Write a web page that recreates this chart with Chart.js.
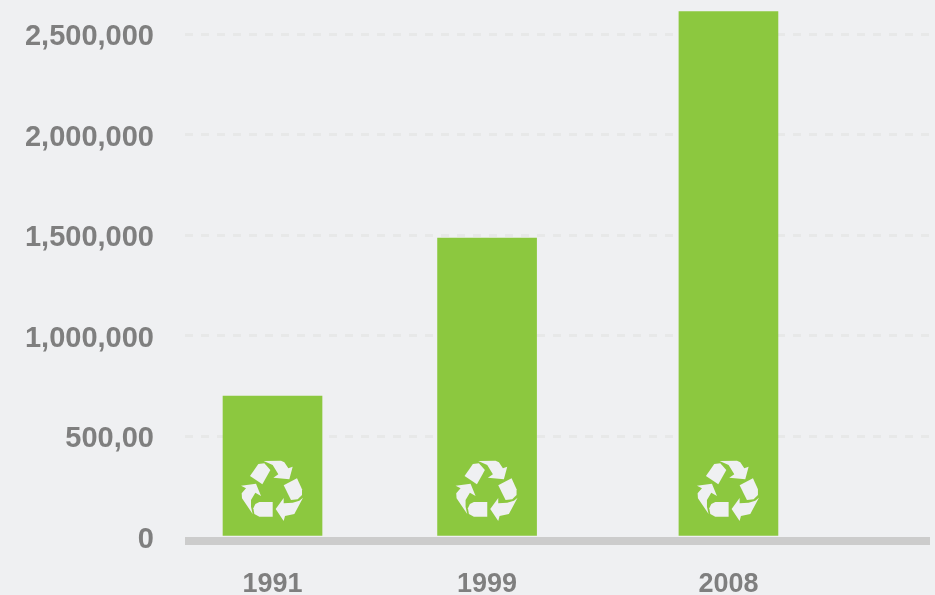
<!DOCTYPE html>
<html>
<head>
<meta charset="utf-8">
<title>Recycling chart</title>
<script src="https://cdn.jsdelivr.net/npm/chart.js@4/dist/chart.umd.js"></script>
<style>
    html, body { margin: 0; padding: 0; background: #eff0f2; overflow: hidden; }
    canvas { display: block; }
</style>
</head>
<body>
<canvas id="recycleChart" width="935" height="595"></canvas>
<script>
const years = [1991, 1999, 2008];
const tonnes = [700000, 1486000, 2612000];
const yTickValues = [0, 500000, 1000000, 1500000, 2000000, 2500000];
const yTickLabels = ['0', '500,00', '1,000,000', '1,500,000', '2,000,000', '2,500,000'];

// recycle symbol, drawn on top of each bar
const recycleShapes = [
    [[188,63],[240,62],[250,67],[262,85],[275,80],[265,118],[217,113],[232,103],[215,75]],
    [[147,108],[172,72],[190,70],[208,90],[184,133]],
    [[248,136],[288,115],[303,148],[303,165],[290,178],[270,180]],
    [[306,173],[280,222],[252,228],[248,243],[224,207],[248,174],[248,190],[275,188],[295,182]],
    [[215,186],[215,230],[175,230],[160,222],[157,205],[163,192],[175,186]],
    [[120,137],[165,131],[180,168],[163,158],[150,180],[150,200],[155,222],[123,175],[122,160],[135,145]]
];

// thick grey base line, drawn under the bars and only as wide as the plot
const baseLine = {
    id: 'baseLine',
    beforeDatasetsDraw(chart) {
        const area = chart.chartArea;
        const yZero = chart.scales.y.getPixelForValue(0);
        chart.ctx.save();
        chart.ctx.fillStyle = '#cccccc';
        chart.ctx.fillRect(area.left, yZero, area.right - area.left, 8);
        chart.ctx.restore();
    }
};

const recycleIcons = {
    id: 'recycleIcons',
    afterDatasetsDraw(chart) {
        const ctx = chart.ctx;
        const yZero = chart.scales.y.getPixelForValue(0);
        chart.getDatasetMeta(0).data.forEach(function(bar) {
            ctx.save();
            ctx.translate(bar.x, yZero);
            ctx.scale(1 / 3, 1 / 3);
            ctx.translate(-214.5, -291);
            ctx.fillStyle = '#eff0f2';
            recycleShapes.forEach(function(shape) {
                ctx.beginPath();
                shape.forEach(function(p, i) {
                    if (i === 0) ctx.moveTo(p[0], p[1]);
                    else ctx.lineTo(p[0], p[1]);
                });
                ctx.closePath();
                ctx.fill();
            });
            ctx.restore();
        });
    }
};

new Chart(document.getElementById('recycleChart').getContext('2d'), {
    type: 'bar',
    data: {
        datasets: [{
            data: years.map(function(year, i) { return { x: year, y: tonnes[i] }; }),
            backgroundColor: '#8cc83f',
            borderWidth: 0,
            barThickness: 99
        }]
    },
    options: {
        responsive: false,
        animation: false,
        layout: { autoPadding: false, padding: { top: 0, right: 5, bottom: 0, left: 0 } },
        plugins: {
            legend: { display: false },
            tooltip: { enabled: false }
        },
        scales: {
            x: {
                type: 'linear',
                min: 1987.737,
                max: 2015.515,
                offset: false,
                grid: { display: false },
                border: { display: false },
                afterBuildTicks: function(scale) {
                    scale.ticks = years.map(function(year) { return { value: year }; });
                },
                afterFit: function(scale) {
                    scale.height = 54;
                    scale.paddingLeft = 0;
                    scale.paddingRight = 0;
                },
                ticks: {
                    color: '#7f7f7f',
                    font: { family: '"Liberation Sans"', weight: 'bold', size: 27 },
                    padding: 19,
                    maxRotation: 0,
                    autoSkip: false,
                    callback: function(value) { return String(value); }
                }
            },
            y: {
                min: -19881,
                max: 2669000,
                grid: {
                    drawTicks: false,
                    lineWidth: 3,
                    color: function(ctx) {
                        return ctx.tick && ctx.tick.value === 0 ? 'rgba(0,0,0,0)' : '#e7e8e8';
                    }
                },
                border: { display: false, dash: [8, 8] },
                afterBuildTicks: function(scale) {
                    scale.ticks = yTickValues.map(function(v) { return { value: v }; });
                },
                afterFit: function(scale) {
                    scale.width = 185;
                    scale.paddingTop = 0;
                    scale.paddingBottom = 0;
                },
                ticks: {
                    color: '#7f7f7f',
                    // small line height + empty first line nudges the labels a few px down
                    font: { family: '"Liberation Sans"', weight: 'bold', size: 29, lineHeight: 0.2 },
                    padding: 31,
                    autoSkip: false,
                    callback: function(value) {
                        return ['', yTickLabels[yTickValues.indexOf(value)]];
                    }
                }
            }
        }
    },
    plugins: [baseLine, recycleIcons]
});
</script>
</body>
</html>
